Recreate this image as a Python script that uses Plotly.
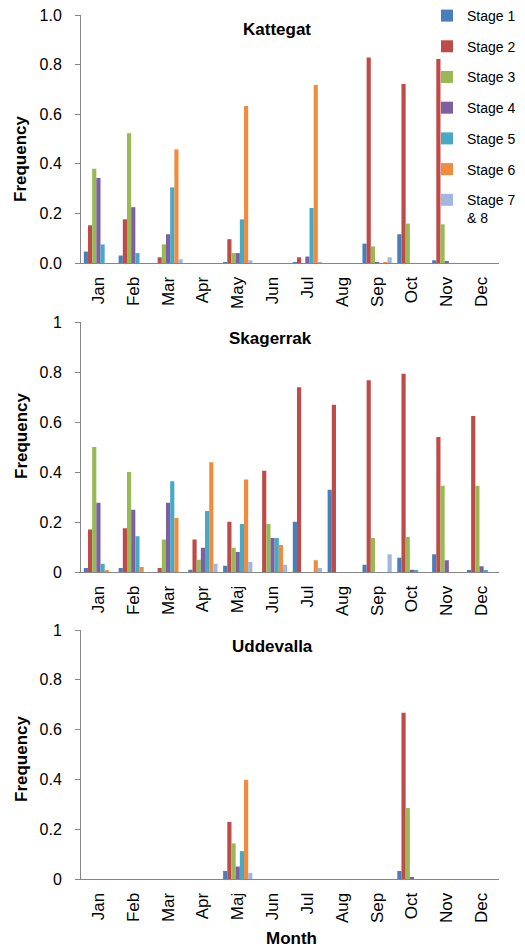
import plotly.graph_objects as go

stages = ["Stage 1", "Stage 2", "Stage 3", "Stage 4", "Stage 5", "Stage 6", "Stage 7<br>& 8"]
colors = ["#4A7EBB", "#BE4B48", "#98B954", "#7D60A0", "#46AAC5", "#F08C40", "#A2B6E0"]

months_kattegat = ["Jan", "Feb", "Mar", "Apr", "May", "Jun", "Jul", "Aug", "Sep", "Oct", "Nov", "Dec"]
months_other = ["Jan", "Feb", "Mar", "Apr", "Maj", "Jun", "Jul", "Aug", "Sep", "Oct", "Nov", "Dec"]

kattegat_s1 = [0.046, 0.030, 0, 0, 0.002, 0, 0.003, 0, 0.078, 0.116, 0.011, 0]
kattegat_s2 = [0.152, 0.176, 0.023, 0, 0.096, 0, 0.023, 0, 0.829, 0.722, 0.823, 0]
kattegat_s3 = [0.380, 0.523, 0.075, 0, 0.040, 0, 0, 0, 0.067, 0.159, 0.156, 0]
kattegat_s4 = [0.343, 0.225, 0.116, 0, 0.040, 0, 0.026, 0, 0.002, 0, 0.007, 0]
kattegat_s5 = [0.075, 0.040, 0.305, 0, 0.176, 0, 0.222, 0, 0, 0, 0, 0]
kattegat_s6 = [0, 0, 0.458, 0, 0.633, 0, 0.718, 0, 0.003, 0, 0, 0]
kattegat_s7 = [0, 0, 0.015, 0, 0.011, 0, 0.002, 0, 0.023, 0, 0, 0]

skagerrak_s1 = [0.016, 0.016, 0, 0.009, 0.025, 0, 0.201, 0.329, 0.029, 0.057, 0.071, 0.005]
skagerrak_s2 = [0.170, 0.175, 0.016, 0.130, 0.201, 0.405, 0.739, 0.669, 0.767, 0.793, 0.540, 0.624]
skagerrak_s3 = [0.500, 0.400, 0.130, 0.049, 0.097, 0.192, 0, 0, 0.136, 0.140, 0.345, 0.345]
skagerrak_s4 = [0.277, 0.249, 0.277, 0.097, 0.080, 0.136, 0, 0, 0, 0.009, 0.047, 0.023]
skagerrak_s5 = [0.033, 0.143, 0.363, 0.244, 0.192, 0.136, 0, 0, 0, 0.005, 0, 0.005]
skagerrak_s6 = [0.005, 0.020, 0.216, 0.439, 0.370, 0.108, 0.047, 0, 0, 0, 0, 0]
skagerrak_s7 = [0, 0, 0, 0.033, 0.040, 0.029, 0.016, 0, 0.071, 0, 0, 0]

uddevalla_s1 = [0, 0, 0, 0, 0.032, 0, 0, 0, 0, 0.032, 0, 0]
uddevalla_s2 = [0, 0, 0, 0, 0.229, 0, 0, 0, 0, 0.668, 0, 0]
uddevalla_s3 = [0, 0, 0, 0, 0.143, 0, 0, 0, 0, 0.285, 0, 0]
uddevalla_s4 = [0, 0, 0, 0, 0.050, 0, 0, 0, 0, 0.005, 0, 0]
uddevalla_s5 = [0, 0, 0, 0, 0.112, 0, 0, 0, 0, 0, 0, 0]
uddevalla_s6 = [0, 0, 0, 0, 0.398, 0, 0, 0, 0, 0, 0, 0]
uddevalla_s7 = [0, 0, 0, 0, 0.024, 0, 0, 0, 0, 0, 0, 0]

panels = [
    ("Kattegat", months_kattegat,
     [kattegat_s1, kattegat_s2, kattegat_s3, kattegat_s4, kattegat_s5, kattegat_s6, kattegat_s7]),
    ("Skagerrak", months_other,
     [skagerrak_s1, skagerrak_s2, skagerrak_s3, skagerrak_s4, skagerrak_s5, skagerrak_s6, skagerrak_s7]),
    ("Uddevalla", months_other,
     [uddevalla_s1, uddevalla_s2, uddevalla_s3, uddevalla_s4, uddevalla_s5, uddevalla_s6, uddevalla_s7]),
]

FONT = "Liberation Sans, Arial, sans-serif"
W, H = 525, 948
ML, MR, MT, MB = 81, 26, 15, 69
PW, PH = W - ML - MR, H - MT - MB


def px_to_py(y):
    return (H - MB - y) / PH


def px_to_px(x):
    return (x - ML) / PW


domains = [
    (px_to_py(263), px_to_py(15)),
    (px_to_py(572), px_to_py(322)),
    (px_to_py(879), px_to_py(630)),
]

fig = go.Figure()
for pi, (name, months, series) in enumerate(panels):
    xa = "x" if pi == 0 else f"x{pi + 1}"
    ya = "y" if pi == 0 else f"y{pi + 1}"
    for si, vals in enumerate(series):
        fig.add_trace(go.Bar(
            x=months, y=vals, name=stages[si],
            marker=dict(color=colors[si], line=dict(width=0)),
            xaxis=xa, yaxis=ya,
            showlegend=(pi == 0), legendgroup=f"g{si}",
        ))

axis_line = "#868686"
layout = dict(
    width=W, height=H,
    margin=dict(l=ML, r=MR, t=MT, b=MB, pad=0, autoexpand=False),
    paper_bgcolor="white", plot_bgcolor="white",
    font=dict(family=FONT, size=16, color="black"),
    barmode="group", bargap=0.16, bargroupgap=0,
    showlegend=True,
    legend=dict(
        x=px_to_px(427), xanchor="left",
        y=px_to_py(0), yanchor="top",
        font=dict(size=14, family=FONT),
        tracegroupgap=9.5, valign="top",
        bgcolor="rgba(0,0,0,0)",
    ),
)

for pi in range(3):
    sfx = "" if pi == 0 else str(pi + 1)
    layout[f"xaxis{sfx}"] = dict(
        domain=[0, 1], anchor=f"y{sfx}", type="category",
        showline=True, linecolor=axis_line, linewidth=1,
        ticks="", tickangle=-90, tickfont=dict(size=17, family=FONT),
        showgrid=False, zeroline=False, ticklabelstandoff=6,
        fixedrange=True,
    )
    ydict = dict(
        domain=list(domains[pi]), anchor=f"x{sfx}",
        range=[0, 1], showline=True, linecolor=axis_line, linewidth=1,
        ticks="outside", ticklen=5, tickcolor=axis_line,
        showgrid=False, zeroline=False,
        tickfont=dict(size=16, family=FONT), ticklabelstandoff=10,
        tickvals=[0, 0.2, 0.4, 0.6, 0.8, 1.0],
    )
    if pi == 0:
        ydict["ticktext"] = ["0.0", "0.2", "0.4", "0.6", "0.8", "1.0"]
    else:
        ydict["ticktext"] = ["0", "0.2", "0.4", "0.6", "0.8", "1"]
    layout[f"yaxis{sfx}"] = ydict

annotations = []
titles = [("Kattegat", 277, 29), ("Skagerrak", 270, 338), ("Uddevalla", 272, 647)]
for t, x, y in titles:
    annotations.append(dict(
        text=f"<b>{t}</b>", xref="paper", yref="paper",
        x=px_to_px(x), y=px_to_py(y), xanchor="center", yanchor="middle",
        showarrow=False, font=dict(size=17, family=FONT),
    ))
for y in [159, 436, 759]:
    annotations.append(dict(
        text="<b>Frequency</b>", xref="paper", yref="paper",
        x=px_to_px(21), y=px_to_py(y), xanchor="center", yanchor="middle",
        textangle=-90, showarrow=False, font=dict(size=17, family=FONT),
    ))
annotations.append(dict(
    text="<b>Month</b>", xref="paper", yref="paper",
    x=px_to_px(291), y=px_to_py(938), xanchor="center", yanchor="middle",
    showarrow=False, font=dict(size=17, family=FONT),
))
layout["annotations"] = annotations

fig.update_layout(**layout)
fig.write_html(
    "out.html",
    config={"displayModeBar": False},
    post_script="document.body.style.margin='0';document.body.style.padding='0';",
)
